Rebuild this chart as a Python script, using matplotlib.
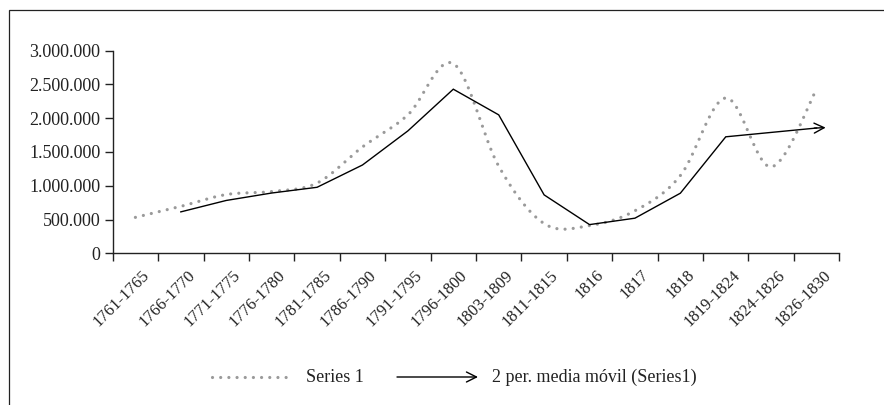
import numpy as np
import matplotlib
matplotlib.use("Agg")
import matplotlib.pyplot as plt
from matplotlib.patches import Rectangle, FancyArrowPatch
from matplotlib.transforms import ScaledTranslation

categories = ["1761-1765", "1766-1770", "1771-1775", "1776-1780", "1781-1785",
              "1786-1790", "1791-1795", "1796-1800", "1803-1809", "1811-1815",
              "1816", "1817", "1818", "1819-1824", "1824-1826", "1826-1830"]
series1 = [532000, 695000, 870000, 915000, 1040000, 1575000, 2050000, 2810000,
           1290000, 440000, 410000, 630000, 1150000, 2300000, 1280000, 2430000]
yticks = [0, 500000, 1000000, 1500000, 2000000, 2500000, 3000000]
ytick_labels = ["0", "500.000", "1.000.000", "1.500.000", "2.000.000", "2.500.000", "3.000.000"]
series_label = "Series 1"
ma_label = "2 per. media móvil (Series1)"

plt.rcParams['font.family'] = ['Liberation Serif', 'DejaVu Serif']

W, H = 884, 405
fig = plt.figure(figsize=(W / 100, H / 100), dpi=100)

# outer frame (cut off at right/bottom like the reference)
fig.patches.append(Rectangle((9 / W, -0.2), 1.2, 1 - 10 / H + 0.2, transform=fig.transFigure,
                             fill=False, edgecolor="#222222", linewidth=0.9))

ax = fig.add_axes([112.7 / W, 1 - 253.3 / H, (839.3 - 112.7) / W, (253.3 - 50.7) / H])
ax.set_facecolor("none")

x = np.arange(len(series1))
y = np.array(series1, dtype=float)

# Excel-like smoothed curve (Bezier rendering through the data points)
def smooth(xs, ys, n=30):
    px, py = [], []
    N = len(xs)
    for i in range(N - 1):
        x0, y0 = xs[max(i - 1, 0)], ys[max(i - 1, 0)]
        x1, y1 = xs[i], ys[i]
        x2, y2 = xs[i + 1], ys[i + 1]
        x3, y3 = xs[min(i + 2, N - 1)], ys[min(i + 2, N - 1)]
        c1x, c1y = x1 + (x2 - x0) / 6, y1 + (y2 - y0) / 6
        c2x, c2y = x2 - (x3 - x1) / 6, y2 - (y3 - y1) / 6
        t = np.linspace(0, 1, n, endpoint=(i == N - 2))
        b0, b1, b2, b3 = (1 - t) ** 3, 3 * (1 - t) ** 2 * t, 3 * (1 - t) * t ** 2, t ** 3
        px.append(b0 * x1 + b1 * c1x + b2 * c2x + b3 * x2)
        py.append(b0 * y1 + b1 * c1y + b2 * c2y + b3 * y2)
    return np.concatenate(px), np.concatenate(py)

sx, sy = smooth(x, y)
dot_color = "#9a9a9a"
dot_lw = 2.3
dot_style = (0, (0.01, 2.55))
ax.plot(sx, sy, color=dot_color, linewidth=dot_lw, linestyle=dot_style,
        dash_capstyle="round")

ma = (y[1:] + y[:-1]) / 2
mx = x[1:]
ax.plot(mx, ma, color="black", linewidth=1.0, solid_joinstyle="miter")
ax.annotate("", xy=(mx[-1] + 0.2, ma[-1] + 6000), xytext=(mx[-1] - 0.05, ma[-1] - 1000),
            arrowprops=dict(arrowstyle="->", color="black", lw=1.0,
                            mutation_scale=18, shrinkA=0, shrinkB=0))

ax.set_xlim(-0.5, len(categories) - 0.5)
ax.set_ylim(0, 3000000)
ax.set_yticks(yticks)
ax.set_yticklabels(ytick_labels, fontsize=13, color="#222222")
ax.tick_params(axis="y", direction="out", length=6, width=1, pad=3, color="#222222")

ax.set_xticks(np.arange(-0.5, len(categories)), minor=False)
ax.set_xticklabels([])
ax.tick_params(axis="x", which="major", direction="out", length=6, width=1, color="#222222")
ax.set_xticks(x, minor=True)
ax.set_xticklabels(categories, minor=True, rotation=45, ha="right", va="top",
                   rotation_mode="anchor", fontsize=12, color="#222222")
ax.tick_params(axis="x", which="minor", length=0, pad=10)
off = ScaledTranslation(6 / 100, 0, fig.dpi_scale_trans)
for lab in ax.get_xticklabels(minor=True):
    lab.set_transform(lab.get_transform() + off)

for s in ["top", "right"]:
    ax.spines[s].set_visible(False)
for s in ["left", "bottom"]:
    ax.spines[s].set_color("#222222")
    ax.spines[s].set_linewidth(1.0)

# legend drawn manually
ly = 1 - 377 / H
fig.lines.append(plt.Line2D([212 / W, 290 / W], [ly, ly], transform=fig.transFigure,
                            color=dot_color, linewidth=dot_lw, linestyle=dot_style,
                            dash_capstyle="round"))
fig.text(306 / W, ly, series_label, fontsize=13, va="center", ha="left", color="#222222")
fig.add_artist(FancyArrowPatch((397 / W, ly), (478 / W, ly),
                               transform=fig.transFigure, arrowstyle="->",
                               mutation_scale=18, color="black", lw=1.0,
                               shrinkA=0, shrinkB=0))
fig.text(492 / W, ly, ma_label, fontsize=13, va="center", ha="left", color="#222222")

fig.savefig("out.png", dpi=100)
